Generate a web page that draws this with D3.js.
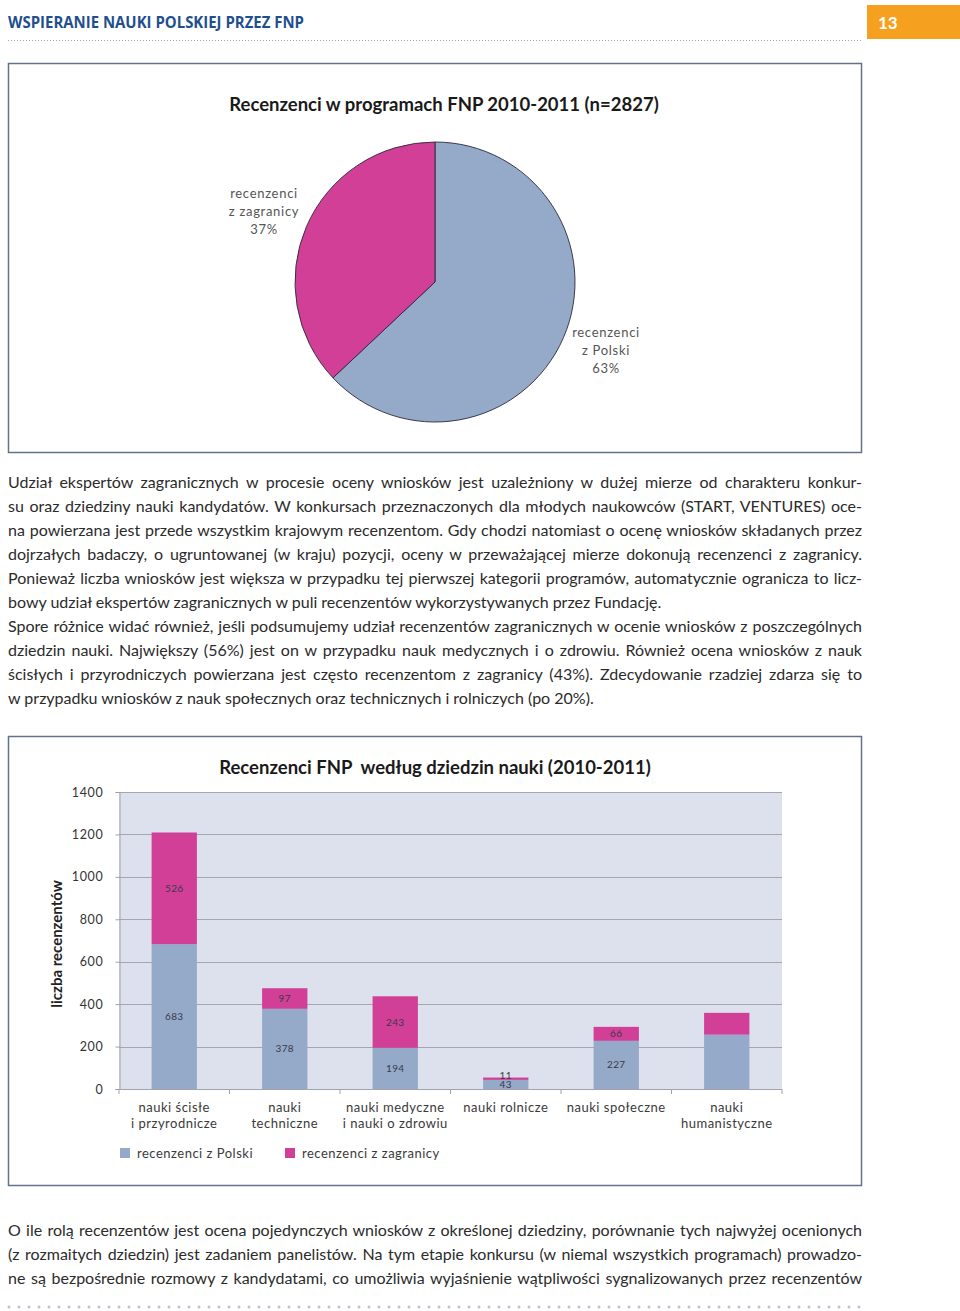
<!DOCTYPE html>
<html>
<head>
<meta charset="utf-8">
<script src="https://cdn.jsdelivr.net/npm/d3@7"></script>
<style>
  html, body { margin: 0; padding: 0; background: #fff; }
  body { width: 960px; height: 1311px; position: relative; overflow: hidden; font-family: Lato, "Open Sans", sans-serif; }
  svg { position: absolute; left: 0; top: 0; }
  .para { position: absolute; left: 8px; width: 854px; color: #2b2b2b; }
  .para div { height: 24px; line-height: 24px; text-align: justify; text-align-last: justify; white-space: normal; }
  .para div.last { text-align: left; text-align-last: left; }
  #p1 { top: 470px; font-size: 16px; }
  #p2 { top: 1218px; font-size: 16px; }
</style>
</head>
<body>
<svg id="chart" width="960" height="1311"></svg>
<div class="para" id="p1"></div>
<div class="para" id="p2"></div>
<script>
// ---------- data ----------
const headerTitle = "WSPIERANIE NAUKI POLSKIEJ PRZEZ FNP";
const pageNumber = "13";
const pieTitle = "Recenzenci w programach FNP 2010-2011 (n=2827)";
const pieLabels = [["recenzenci", "z Polski", "63%"], ["recenzenci", "z zagranicy", "37%"]];
const pieValues = [63, 37];
const barTitle = "Recenzenci FNP  według dziedzin nauki (2010-2011)";
const categories = ["nauki ścisłe i przyrodnicze", "nauki techniczne", "nauki medyczne i nauki o zdrowiu", "nauki rolnicze", "nauki społeczne", "nauki humanistyczne"];
const categoryLines = [["nauki ścisłe", "i przyrodnicze"], ["nauki", "techniczne"], ["nauki medyczne", "i nauki o zdrowiu"], ["nauki rolnicze"], ["nauki społeczne"], ["nauki", "humanistyczne"]];
const polishValues = [683, 378, 194, 43, 227, 256];
const foreignValues = [526, 97, 243, 11, 66, 103];
const showLabels = [true, true, true, true, true, false];
const yTicks = [0, 200, 400, 600, 800, 1000, 1200, 1400];
const seriesNames = ["recenzenci z Polski", "recenzenci z zagranicy"];
const yAxisTitle = "liczba recenzentów";
const paragraph1 = [
  "Udział ekspertów zagranicznych w procesie oceny wniosków jest uzależniony w dużej mierze od charakteru konkur-",
  "su oraz dziedziny nauki kandydatów. W konkursach przeznaczonych dla młodych naukowców (START, VENTURES) oce-",
  "na powierzana jest przede wszystkim krajowym recenzentom. Gdy chodzi natomiast o ocenę wniosków składanych przez",
  "dojrzałych badaczy, o ugruntowanej (w kraju) pozycji, oceny w przeważającej mierze dokonują recenzenci z zagranicy.",
  "Ponieważ liczba wniosków jest większa w przypadku tej pierwszej kategorii programów, automatycznie ogranicza to licz-",
  "bowy udział ekspertów zagranicznych w puli recenzentów wykorzystywanych przez Fundację.|",
  "Spore różnice widać również, jeśli podsumujemy udział recenzentów zagranicznych w ocenie wniosków z poszczególnych",
  "dziedzin nauki. Największy (56%) jest on w przypadku nauk medycznych i o zdrowiu. Również ocena wniosków z nauk",
  "ścisłych i przyrodniczych powierzana jest często recenzentom z zagranicy (43%). Zdecydowanie rzadziej zdarza się to",
  "w przypadku wniosków z nauk społecznych oraz technicznych i rolniczych (po 20%).|"
];
const paragraph2 = [
  "O ile rolą recenzentów jest ocena pojedynczych wniosków z określonej dziedziny, porównanie tych najwyżej ocenionych",
  "(z rozmaitych dziedzin) jest zadaniem panelistów. Na tym etapie konkursu (w niemal wszystkich programach) prowadzo-",
  "ne są bezpośrednie rozmowy z kandydatami, co umożliwia wyjaśnienie wątpliwości sygnalizowanych przez recenzentów"
];

// ---------- styles ----------
const BLUE = "#95a9c9", PINK = "#d13f97";
const svg = d3.select("#chart");
const font = "Lato, 'Open Sans', sans-serif";

// ---------- header ----------
svg.append("text").attr("x", 8).attr("y", 28)
  .attr("font-family", "'Liberation Sans Narrow', 'Open Sans', sans-serif")
  .attr("font-weight", "bold").attr("font-size", 15.5).attr("fill", "#1f4f8f")
  .attr("textLength", 296).attr("lengthAdjust", "spacingAndGlyphs")
  .text(headerTitle);
svg.append("line").attr("x1", 8).attr("x2", 862).attr("y1", 40.5).attr("y2", 40.5)
  .attr("stroke", "#9aa3ae").attr("stroke-width", 1).attr("stroke-dasharray", "1,2");
svg.append("rect").attr("x", 867).attr("y", 5).attr("width", 93).attr("height", 34).attr("fill", "#f5a01e");
svg.append("text").attr("x", 878).attr("y", 29).attr("font-family", font).attr("font-weight", "bold")
  .attr("font-size", 17).attr("fill", "#fff").text(pageNumber);
// bottom dotted line
svg.append("line").attr("x1", 9).attr("x2", 862).attr("y1", 1307).attr("y2", 1307)
  .attr("stroke", "#b8c3d3").attr("stroke-width", 3).attr("stroke-linecap", "round").attr("stroke-dasharray", "0,10");

// ---------- pie box ----------
svg.append("rect").attr("x", 8.5).attr("y", 63.5).attr("width", 853).attr("height", 389)
  .attr("fill", "none").attr("stroke", "#62728a").attr("stroke-width", 1.5);
svg.append("text").attr("x", 444).attr("y", 111).attr("text-anchor", "middle")
  .attr("font-family", font).attr("font-weight", "bold").attr("font-size", 18.5).attr("fill", "#1a1a1a")
  .text(pieTitle);

const pieCx = 435, pieCy = 282, pieR = 140;
const pie = d3.pie().sort(null).value(d => d)(pieValues);
const arc = d3.arc().innerRadius(0).outerRadius(pieR);
const pg = svg.append("g").attr("transform", `translate(${pieCx},${pieCy})`);
pg.selectAll("path").data(pie).join("path")
  .attr("d", arc).attr("fill", (d, i) => i === 0 ? BLUE : PINK)
  .attr("stroke", "#2a2a3a").attr("stroke-width", 0.9);

const pieLabelPos = [[606, 337], [264, 198]];
pieLabels.forEach((lines, i) => {
  const t = svg.append("text").attr("text-anchor", "middle").attr("font-family", font)
    .attr("font-size", 13).attr("fill", "#555").attr("letter-spacing", 0.7);
  lines.forEach((l, j) => t.append("tspan").attr("x", pieLabelPos[i][0]).attr("y", pieLabelPos[i][1] + j * 18).text(l));
});

// ---------- bar box ----------
svg.append("rect").attr("x", 8.5).attr("y", 736.5).attr("width", 853).attr("height", 449)
  .attr("fill", "none").attr("stroke", "#62728a").attr("stroke-width", 1.5);
svg.append("text").attr("x", 435).attr("y", 774).attr("text-anchor", "middle")
  .attr("font-family", font).attr("font-weight", "bold").attr("font-size", 18.5).attr("fill", "#1a1a1a")
  .style("white-space", "pre").text(barTitle);

const x = d3.scaleBand().domain(categories).range([119, 782]).paddingInner(0.59).paddingOuter(0.295);
const y = d3.scaleLinear().domain([0, 1400]).range([1089, 792]);

svg.append("rect").attr("x", 119).attr("y", y(1400)).attr("width", 663).attr("height", y(0) - y(1400)).attr("fill", "#dde1ed");
svg.append("g").selectAll("line").data(yTicks.filter(d => d > 0)).join("line")
  .attr("x1", 119).attr("x2", 782).attr("y1", d => Math.round(y(d)) + 0.5).attr("y2", d => Math.round(y(d)) + 0.5)
  .attr("stroke", "#a3a6ad").attr("stroke-width", 1);

// y axis
const yAxis = svg.append("g").attr("transform", "translate(119.5,0)")
  .call(d3.axisLeft(y).tickValues(yTicks).tickFormat(d3.format("d")).tickSize(4).tickPadding(12));
yAxis.select(".domain").attr("stroke", "#a0a3aa");
yAxis.selectAll(".tick line").attr("stroke", "#a0a3aa");
yAxis.selectAll(".tick text").attr("font-family", font).attr("font-size", 12.5).attr("fill", "#333").attr("letter-spacing", 0.7);

// x axis line and dividers
const xg = svg.append("g");
xg.append("line").attr("x1", 119).attr("x2", 782).attr("y1", 1089.5).attr("y2", 1089.5).attr("stroke", "#a0a3aa");
const bounds = categories.map(c => x(c) - x.step() * x.paddingInner() / 2).concat([782]);
bounds[0] = 119;
xg.selectAll("line.div").data(bounds).join("line").attr("class", "div")
  .attr("x1", d => d).attr("x2", d => d).attr("y1", 1089).attr("y2", 1094).attr("stroke", "#a0a3aa");

// bars
const stacked = categories.map((c, i) => ({ c, p: polishValues[i], f: foreignValues[i], show: showLabels[i] }));
const bars = svg.append("g");
bars.selectAll("rect.pl").data(stacked).join("rect").attr("class", "pl")
  .attr("x", d => x(d.c)).attr("width", x.bandwidth())
  .attr("y", d => y(d.p)).attr("height", d => y(0) - y(d.p)).attr("fill", BLUE);
bars.selectAll("rect.fo").data(stacked).join("rect").attr("class", "fo")
  .attr("x", d => x(d.c)).attr("width", x.bandwidth())
  .attr("y", d => y(d.p + d.f)).attr("height", d => y(d.p) - y(d.p + d.f)).attr("fill", PINK);

// value labels
const lab = stacked.filter(d => d.show);
const pY = d => (y(0) + y(d.p)) / 2 + 3.5;
const fY = d => Math.min((y(d.p) + y(d.p + d.f)) / 2 + 3.5, pY(d) - 9);
bars.selectAll("text.vp").data(lab).join("text").attr("class", "vp")
  .attr("x", d => x(d.c) + x.bandwidth() / 2).attr("y", pY)
  .attr("text-anchor", "middle").attr("font-family", font).attr("font-size", 10).attr("fill", "#3a3a4a")
  .attr("letter-spacing", 0.4).text(d => d.p);
bars.selectAll("text.vf").data(lab).join("text").attr("class", "vf")
  .attr("x", d => x(d.c) + x.bandwidth() / 2).attr("y", fY)
  .attr("text-anchor", "middle").attr("font-family", font).attr("font-size", 10).attr("fill", "#3a3a4a")
  .attr("letter-spacing", 0.4).text(d => d.f);

// category labels
categoryLines.forEach((lines, i) => {
  const t = svg.append("text").attr("text-anchor", "middle").attr("font-family", font)
    .attr("font-size", 13).attr("fill", "#3a3a3a").attr("letter-spacing", 0.5);
  lines.forEach((l, j) => t.append("tspan").attr("x", x(categories[i]) + x.bandwidth() / 2).attr("y", 1112 + j * 16).text(l));
});

// y title
svg.append("text").attr("transform", "translate(62,944) rotate(-90)").attr("text-anchor", "middle")
  .attr("font-family", font).attr("font-weight", "bold").attr("font-size", 15).attr("fill", "#222")
  .text(yAxisTitle);

// legend
const legX = [120, 285];
seriesNames.forEach((n, i) => {
  svg.append("rect").attr("x", legX[i]).attr("y", 1148).attr("width", 10).attr("height", 10).attr("fill", i === 0 ? BLUE : PINK);
  svg.append("text").attr("x", legX[i] + 17).attr("y", 1158).attr("font-family", font).attr("font-size", 13)
    .attr("fill", "#3a3a3a").attr("letter-spacing", 0.5).text(n);
});

// ---------- paragraphs ----------
function fillPara(sel, lines) {
  d3.select(sel).selectAll("div").data(lines).join("div")
    .classed("last", d => d.endsWith("|"))
    .text(d => d.replace(/\|$/, ""));
}
fillPara("#p1", paragraph1);
fillPara("#p2", paragraph2);
</script>
</body>
</html>
